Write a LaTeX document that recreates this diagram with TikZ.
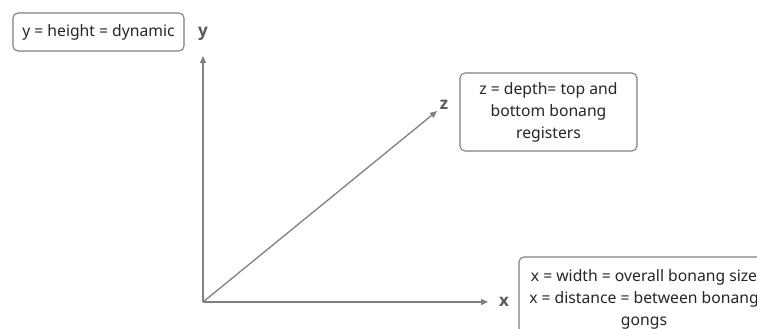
\documentclass[tikz,border=0pt]{standalone}
\usepackage{fontspec}
\setmainfont{Noto Sans}
\newfontfamily\axisfont{Open Sans}
\usetikzlibrary{arrows.meta,positioning}

\begin{document}
\begin{tikzpicture}[
  x=1pt, y=-1pt,
  box/.style={rectangle, rounded corners=5pt, draw=black!50, line width=1.1pt, fill=white,
              align=center, font=\fontsize{15.7}{22}\selectfont, text=black!85, inner sep=2pt},
  arr/.style={-{Triangle[length=7pt,width=6pt]}, draw=black!50, line width=1.3pt},
  lbl/.style={font=\axisfont\fontsize{17}{17}\selectfont\bfseries, text=black!65, inner sep=1pt},
]
  \clip (0,0) rectangle (757,329);
  \useasboundingbox (0,0) rectangle (757,329);

  % axes
  \coordinate (o) at (203,302);
  \coordinate (ytip) at (203,56);
  \coordinate (xtip) at (488,302);
  \coordinate (ztip) at (437,111);

  \node[lbl] (ylbl) at (203,34) {y};
  \node[lbl] (xlbl) at (504,302) {x};
  \node[lbl] (zlbl) at (444,105) {z};

  \draw[arr] (o) -- (ytip);
  \draw[arr] (o) -- (xtip);
  \draw[arr] (o) -- (ztip);

  % notes
  \node[box, minimum width=171, minimum height=38] (ybox) at (98.5,32) {y = height = dynamic};
  \node[box, minimum width=177, minimum height=78] (zbox) at (548.5,112)
    {z = depth= top and\\bottom bonang\\registers};
  \node[box, minimum width=250, minimum height=84] (xbox) at (644,299)
    {x = width = overall bonang size\\x = distance = between bonang\\gongs};
\end{tikzpicture}
\end{document}
